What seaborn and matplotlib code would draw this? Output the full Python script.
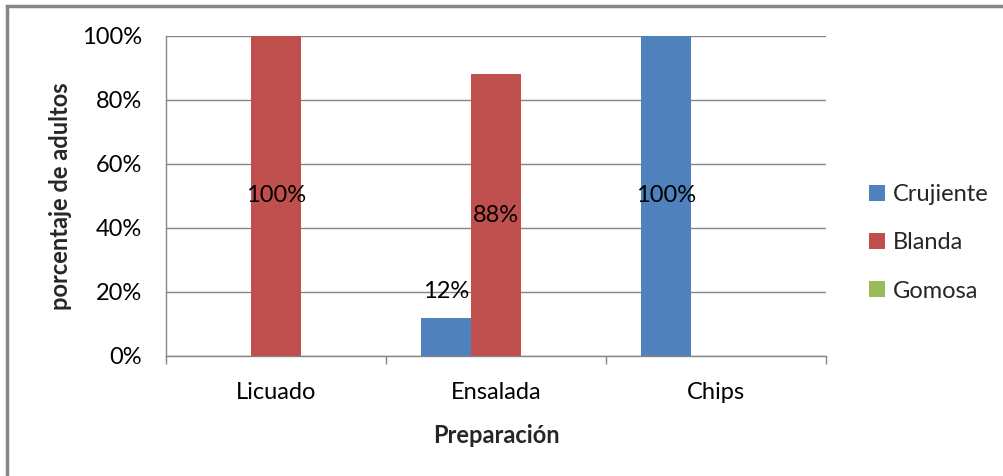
import matplotlib
matplotlib.use("Agg")
import matplotlib.pyplot as plt
import seaborn as sns
import pandas as pd
from matplotlib.patches import Rectangle
from matplotlib.ticker import FixedLocator, PercentFormatter

categories = ["Licuado", "Ensalada", "Chips"]
series = ["Crujiente", "Blanda", "Gomosa"]
crujiente = [0, 12, 100]
blanda = [100, 88, 0]
gomosa = [0, 0, 0]
colors = ["#4F81BD", "#C0504D", "#9BBB59"]

rows = []
for s, vals in zip(series, [crujiente, blanda, gomosa]):
    for c, v in zip(categories, vals):
        rows.append({"Preparación": c, "serie": s, "valor": v})
df = pd.DataFrame(rows)

sns.set_theme(style="white")
plt.rcParams["font.family"] = ["Lato", "DejaVu Sans"]

FS = 17

fig = plt.figure(figsize=(10.04, 4.76), dpi=100)
ax = fig.add_axes([166/1004, 1-356/476, 660/1004, 320/476])

sns.barplot(data=df, x="Preparación", y="valor", hue="serie", order=categories,
            hue_order=series, palette=colors, width=0.682, linewidth=0,
            errorbar=None, ax=ax, saturation=1)

grey = "#868686"
ax.set_ylim(0, 100)
ax.set_xlim(-0.5, 2.5)
ax.set_yticks([0, 20, 40, 60, 80, 100])
ax.yaxis.set_major_formatter(PercentFormatter(decimals=0))
ax.grid(axis="y", color=grey, linewidth=1)
ax.set_axisbelow(True)
for sp in ["top", "right"]:
    ax.spines[sp].set_visible(False)
for sp in ["left", "bottom"]:
    ax.spines[sp].set_color(grey)
    ax.spines[sp].set_linewidth(1)
ax.tick_params(axis="y", length=6, color=grey, width=1, labelsize=FS, pad=11.5, labelcolor="#000000")
ax.xaxis.set_minor_locator(FixedLocator([-0.5, 0.5, 1.5, 2.5]))
ax.tick_params(axis="x", which="major", length=0, labelsize=FS, pad=19, labelcolor="#000000")
ax.tick_params(axis="x", which="minor", length=6, color=grey, width=1, bottom=True)
ax.set_xlabel("Preparación", fontsize=FS, fontweight="bold", labelpad=15)
ax.set_ylabel("porcentaje de adultos", fontsize=FS, fontweight="bold")
ax.yaxis.set_label_coords((72 - 166) / 660, 0.5)

# data labels
for container, vals in zip(ax.containers, [crujiente, blanda, gomosa]):
    for bar, v in zip(container, vals):
        if v <= 0:
            continue
        ypos = v / 2 if v >= 30 else v + 8
        ax.text(bar.get_x() + bar.get_width() / 2, ypos, f"{v}%",
                ha="center", va="center", fontsize=FS, color="#000000")

leg = ax.legend(loc="center left", bbox_to_anchor=(869/1004, 1-243/476),
                bbox_transform=fig.transFigure, frameon=False, fontsize=FS,
                handlelength=0.68, handleheight=0.68, handletextpad=0.35,
                labelspacing=1.15, borderpad=0, borderaxespad=0)

fig.patches.append(Rectangle((7/1004, -0.1), 1.2, 1-6/476 + 0.1, transform=fig.transFigure,
                             fill=False, edgecolor=grey, linewidth=2.5))

fig.savefig("out.png", dpi=100)
